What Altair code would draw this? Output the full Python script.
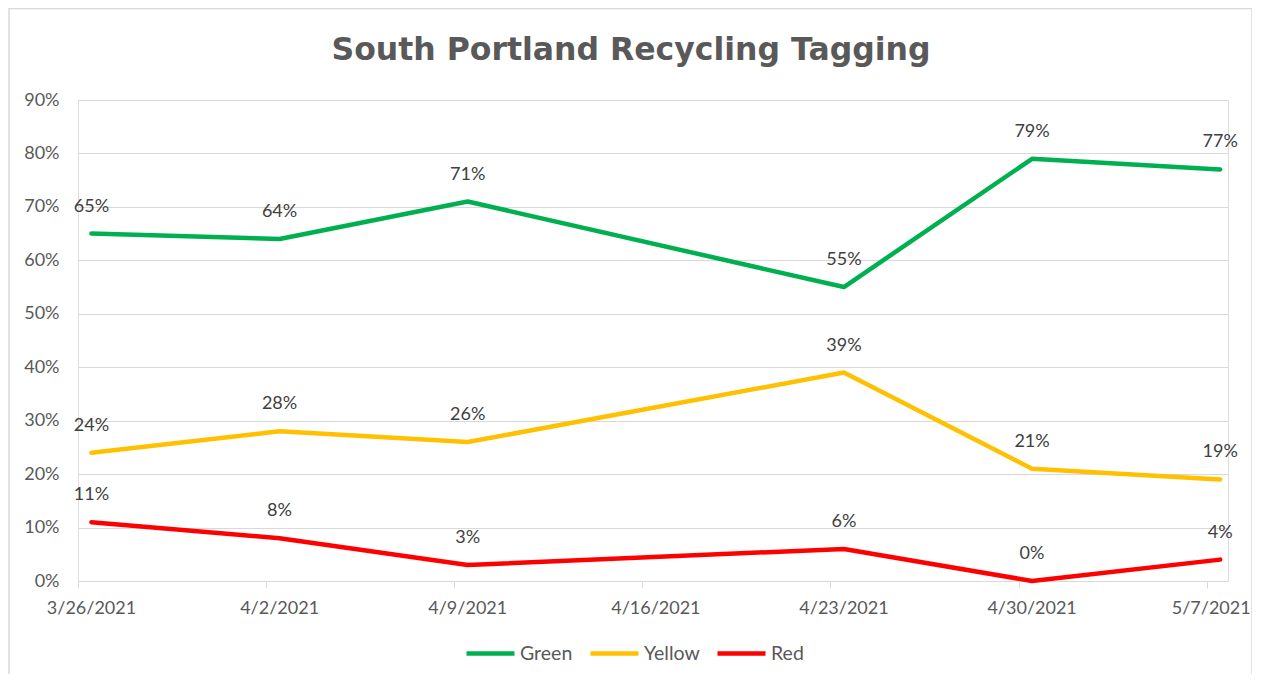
import altair as alt
import pandas as pd

# ---- data ----
dates = ["2021-03-26", "2021-04-02", "2021-04-09", "2021-04-23", "2021-04-30", "2021-05-07"]
green = [65, 64, 71, 55, 79, 77]
yellow = [24, 28, 26, 39, 21, 19]
red = [11, 8, 3, 6, 0, 4]
series_names = ["Green", "Yellow", "Red"]
series_colors = ["#00b050", "#ffc000", "#ff0000"]
tick_dates = ["2021-03-26", "2021-04-02", "2021-04-09", "2021-04-16",
              "2021-04-23", "2021-04-30", "2021-05-07"]
y_ticks = [0, 10, 20, 30, 40, 50, 60, 70, 80, 90]
title_text = "South Portland Recycling Tagging"

rows = []
for name, vals in zip(series_names, [green, yellow, red]):
    for d, v in zip(dates, vals):
        # Excel date axis: points sit in the middle of their day
        rows.append({"date": d + "T12:00:00Z", "series": name, "value": v / 100})
df = pd.DataFrame(rows)


def dt(s, hours=0):
    y, m, d = (int(p) for p in s.split("-"))
    return alt.DateTime(year=y, month=m, date=d, hours=hours, utc=True)


x_enc = alt.X(
    "date:T",
    scale=alt.Scale(type="utc", domain=[dt("2021-03-26"), dt("2021-05-07", 19)]),
    axis=alt.Axis(
        values=[dt(t) for t in tick_dates],
        format="%-m/%-d/%Y",
        title=None,
        grid=False,
        domainColor="#d9d9d9",
        domainWidth=1,
        tickColor="#d9d9d9",
        tickSize=7,
        labelFont="Lato",
        labelFontSize=18,
        labelColor="#595959",
        labelPadding=11,
        labelOffset={"condition": {"test": "datum.value > utc(2021, 4, 6)", "value": 4}, "value": 13},
        labelFlush=False,
        labelOverlap=False,
    ),
)
y_enc = alt.Y(
    "value:Q",
    scale=alt.Scale(domain=[0, 0.9], nice=False),
    axis=alt.Axis(
        values=[v / 100 for v in y_ticks],
        format=".0%",
        title=None,
        domain=False,
        ticks=False,
        gridColor="#d9d9d9",
        gridWidth=1,
        labelFont="Lato",
        labelFontSize=18,
        labelColor="#595959",
        labelPadding=19,
    ),
)
color_enc = alt.Color(
    "series:N",
    scale=alt.Scale(domain=series_names, range=series_colors),
    legend=alt.Legend(
        title=None,
        orient="none",
        direction="horizontal",
        legendX=386,
        legendY=527,
        symbolType="stroke",
        symbolStrokeWidth=4.5,
        symbolSize=2304,
        labelFont="Lato",
        labelFontSize=19.5,
        labelColor="#595959",
        labelOffset=3,
        columnPadding=8,
    ),
)

base = alt.Chart(df)
lines = base.mark_line(strokeWidth=4.5, strokeCap="round", strokeJoin="round").encode(
    x=x_enc, y=y_enc, color=color_enc
)
labels = base.mark_text(dy=-27, fontSize=18, font="Lato", color="#404040").encode(
    x="date:T", y="value:Q", text=alt.Text("value:Q", format=".0%")
)
frame = alt.Chart(pd.DataFrame({"f": [0]})).mark_rect(
    fill="transparent", stroke="#d9d9d9", strokeWidth=1.5
).encode(
    x=alt.value(-69), x2=alt.value(1174), y=alt.value(-91.5), y2=alt.value(700)
)

chart = alt.layer(frame, lines, labels).properties(
    width=1150,
    height=481,
    autosize=alt.AutoSizeParams(type="none"),
    padding={"left": 70, "top": 92, "right": 24, "bottom": 93},
    title=alt.TitleParams(
        title_text,
        font="DejaVu Sans",
        fontSize=31.5,
        fontWeight="bold",
        color="#595959",
        anchor="middle",
        frame="group",
        baseline="alphabetic",
        offset=0,
        dx=-22,
        dy=84,
    ),
).configure_view(stroke=None).configure(background="white")

chart.save("out.html", embed_options={"renderer": "svg", "actions": False})
